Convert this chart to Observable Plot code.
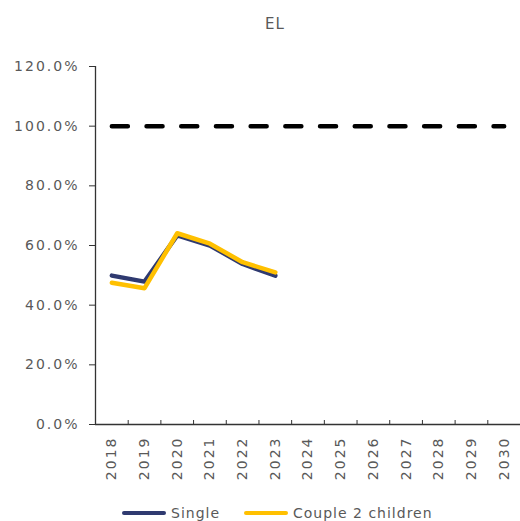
<!DOCTYPE html>
<html><head><meta charset="utf-8">
<script src="https://cdn.jsdelivr.net/npm/d3@7"></script>
<script src="https://cdn.jsdelivr.net/npm/@observablehq/plot@0.6"></script>
<style>
body{margin:0;background:#fff;font-family:"DejaVu Sans",sans-serif;color:#595959;}
#wrap{position:relative;width:520px;height:521px;overflow:hidden;}
#title{position:absolute;top:15px;left:0;width:550px;text-align:center;font-size:15px;letter-spacing:1px;}
#chart{position:absolute;top:45px;left:0;}
#legend{position:absolute;top:504px;left:0;width:520px;height:18px;font-size:14px;letter-spacing:1px;}
.item{position:absolute;top:0;display:flex;align-items:center;height:18px;}
.sw{width:44px;height:4px;border-radius:2px;margin-right:5px;}
</style>
</head><body>
<div id="wrap">
  <div id="title">EL</div>
  <div id="chart"></div>
  <div id="legend"></div>
</div>
<script>
const title = "EL";
const years = [2018,2019,2020,2021,2022,2023,2024,2025,2026,2027,2028,2029,2030];
const dataYears = [2018,2019,2020,2021,2022,2023];
const single = [49.9, 47.9, 63.4, 60.0, 53.8, 49.9];
const couple = [47.5, 45.7, 64.1, 60.6, 54.4, 51.0];
const target = 100;
const yTicks = [0,20,40,60,80,100,120];
const seriesNames = ["Single","Couple 2 children"];
const colors = ["#2f3a70","#ffc000"];

const xDomain = [years[0]-0.5, years[years.length-1]+0.5];
const halfTicks = years.map(y => y + 0.5);
const singleData = dataYears.map((x,i)=>({x, y: single[i]}));
const coupleData = dataYears.map((x,i)=>({x, y: couple[i]}));
const targetData = years.map(x=>({x, y: target}));

const fontStyle = {fontFamily:"DejaVu Sans, sans-serif", fontSize:"14px", letterSpacing:"2px"};

const chart = Plot.plot({
  width: 520,
  height: 455,
  marginTop: 21,
  marginBottom: 76,
  marginLeft: 95,
  marginRight: 0,
  style: {...fontStyle, color:"#595959", background:"#fff"},
  x: {domain: xDomain, type:"linear"},
  y: {domain: [yTicks[0], yTicks[yTicks.length-1]]},
  marks: [
    Plot.axisY({ticks: yTicks, tickSize: 6, tickPadding: 10, tickFormat: d => d.toFixed(1) + "%", label: null, stroke:"#333", fill:"#595959"}),
    Plot.axisX({ticks: years, tickSize: 0, tickPadding: 12, tickRotate: -90, tickFormat: d => String(d), label: null, fill:"#595959"}),
    Plot.axisX({ticks: halfTicks, tickSize: -4, tickFormat: () => "", label: null, stroke:"#333"}),
    Plot.ruleX([xDomain[0]], {stroke:"#333", strokeWidth:1.3}),
    Plot.ruleY([yTicks[0]], {stroke:"#333", strokeWidth:1.3}),
    Plot.line(targetData, {x:"x", y:"y", stroke:"#000", strokeWidth:4.5, strokeDasharray:"16,18.7", strokeLinecap:"round"}),
    Plot.line(singleData, {x:"x", y:"y", stroke:colors[0], strokeWidth:4.5, strokeLinejoin:"round"}),
    Plot.line(coupleData, {x:"x", y:"y", stroke:colors[1], strokeWidth:4.5, strokeLinejoin:"round"})
  ]
});
document.getElementById("chart").appendChild(chart);
document.getElementById("title").textContent = title;

const legend = document.getElementById("legend");
const lefts = [122, 244];
seriesNames.forEach((name,i)=>{
  const it = document.createElement("div");
  it.className = "item";
  it.style.left = lefts[i] + "px";
  const sw = document.createElement("div");
  sw.className = "sw";
  sw.style.background = colors[i];
  const t = document.createElement("span");
  t.textContent = name;
  it.appendChild(sw); it.appendChild(t);
  legend.appendChild(it);
});
</script>
</body></html>
